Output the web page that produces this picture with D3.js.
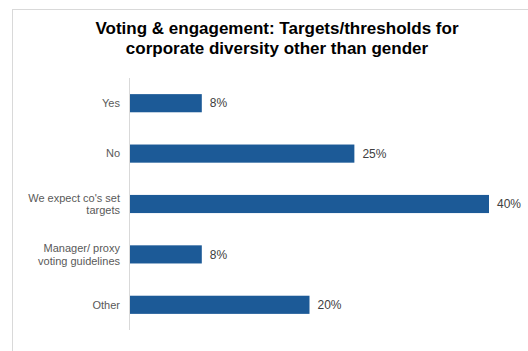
<!DOCTYPE html>
<html>
<head>
<meta charset="utf-8">
<script src="https://cdn.jsdelivr.net/npm/d3@7"></script>
<style>
  html, body { margin: 0; padding: 0; background: #fff; }
  svg { display: block; font-family: "Liberation Sans", Arial, sans-serif; }
</style>
</head>
<body>
<svg id="chart" width="528" height="351"></svg>
<script>
// Survey answers and their shares (%)
const categories = [
  ["Yes"],
  ["No"],
  ["We expect co's set", "targets"],
  ["Manager/ proxy", "voting guidelines"],
  ["Other"]
];
const values = [8, 25, 40, 8, 20];
const valueLabels = ["8%", "25%", "40%", "8%", "20%"];
const titleLines = [
  "Voting & engagement: Targets/thresholds for",
  "corporate diversity other than gender"
];

const svg = d3.select("#chart");

// Chart frame (left and top edges visible)
svg.append("rect")
  .attr("x", 12.5).attr("y", 9.5)
  .attr("width", 540).attr("height", 360)
  .attr("fill", "#fff")
  .attr("stroke", "#d9d9d9")
  .attr("stroke-width", 1);

// Title
svg.append("text")
  .attr("text-anchor", "middle")
  .attr("font-size", 17)
  .attr("font-weight", "bold")
  .attr("fill", "#000")
  .selectAll("tspan")
  .data(titleLines)
  .join("tspan")
  .attr("x", 277)
  .attr("y", (d, i) => 34 + i * 19.5)
  .text(d => d);

const x0 = 130;
const x = d3.scaleLinear().domain([0, 40]).range([x0, 489]);
const y = d3.scaleBand()
  .domain(d3.range(values.length))
  .range([78, 330])
  .paddingInner(0.64)
  .paddingOuter(0.32);

// Category axis line
svg.append("line")
  .attr("x1", 129.5).attr("x2", 129.5)
  .attr("y1", 78).attr("y2", 330)
  .attr("stroke", "#d9d9d9")
  .attr("stroke-width", 1);

// Bars
svg.append("g")
  .selectAll("rect")
  .data(values)
  .join("rect")
  .attr("x", x(0))
  .attr("y", (d, i) => y(i))
  .attr("width", d => x(d) - x(0))
  .attr("height", y.bandwidth())
  .attr("fill", "#1c5a97");

// Value labels
svg.append("g")
  .selectAll("text")
  .data(values)
  .join("text")
  .attr("x", d => x(d) + 8)
  .attr("y", (d, i) => y(i) + y.bandwidth() / 2)
  .attr("dy", "0.35em")
  .attr("font-size", 12)
  .attr("fill", "#404040")
  .text((d, i) => valueLabels[i]);

// Category labels
const catG = svg.append("g")
  .selectAll("text")
  .data(categories)
  .join("text")
  .attr("text-anchor", "end")
  .attr("font-size", 11)
  .attr("fill", "#595959");

catG.each(function(lines, i) {
  const cy = y(i) + y.bandwidth() / 2;
  const lh = 12.5;
  const top = cy - (lines.length - 1) * lh / 2;
  d3.select(this).selectAll("tspan")
    .data(lines)
    .join("tspan")
    .attr("x", 120)
    .attr("y", (d, k) => top + k * lh)
    .attr("dy", "0.35em")
    .text(d => d);
});
</script>
</body>
</html>
